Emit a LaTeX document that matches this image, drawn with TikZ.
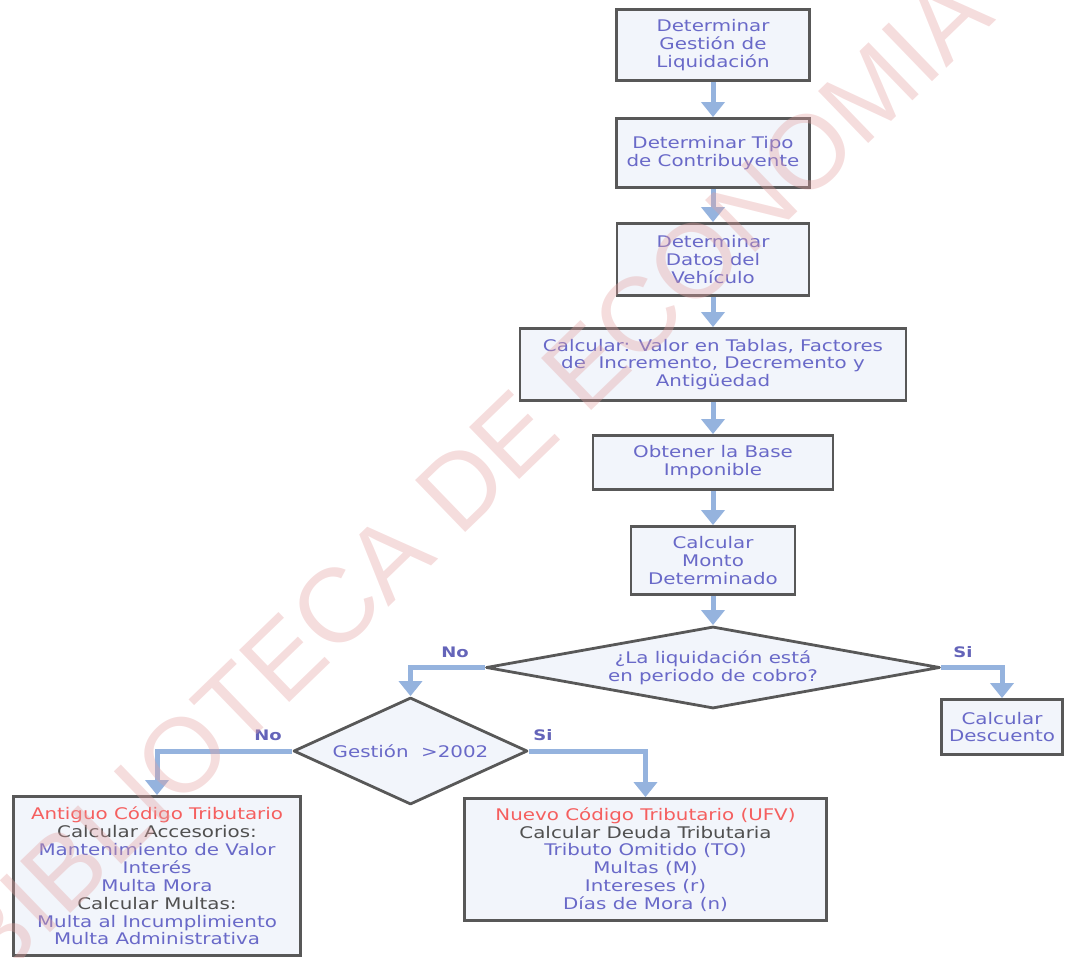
\documentclass[tikz,border=0pt]{standalone}
\usepackage{fontspec}
\setmainfont{DejaVu Sans}[FakeStretch=1.24]
\newfontfamily\wmfont{Liberation Sans}
\usetikzlibrary{shapes.geometric,arrows.meta}
\definecolor{txtblue}{RGB}{105,105,200}
\definecolor{txtred}{RGB}{245,95,95}
\definecolor{txtgray}{RGB}{80,80,80}
\definecolor{boxfill}{RGB}{242,245,251}
\definecolor{boxline}{RGB}{88,88,88}
\definecolor{arrowc}{RGB}{149,179,222}
\definecolor{lblc}{RGB}{100,100,185}
\definecolor{wmc}{RGB}{228,160,160}
\begin{document}
\begin{tikzpicture}[x=1pt,y=-1pt,
  procbox/.style={draw=boxline, line width=2.8pt, fill=boxfill, rectangle,
    inner sep=0pt, align=center, text=txtblue,
    font=\fontsize{16}{17.9}\selectfont},
  decbox/.style={draw=boxline, line width=2.8pt, fill=boxfill, diamond,
    line join=round, inner sep=0pt, align=center, text=txtblue,
    font=\fontsize{16}{17.9}\selectfont},
  flow/.style={draw=arrowc, line width=5pt, -{Triangle[width=23pt,length=15pt]}},
  lbl/.style={text=lblc, font=\fontsize{14.5}{16}\selectfont\bfseries, inner sep=0pt},
  watermark/.style={text=wmc, opacity=0.36, inner sep=0pt,
    font=\wmfont\fontsize{105}{110}\selectfont}]
\useasboundingbox (0,0) rectangle (1066,958);

\node[procbox, minimum width=193pt, minimum height=71pt] (b1) at (713,45)
  {Determinar\\Gestión de\\Liquidación};
\node[procbox, minimum width=193pt, minimum height=69pt] (b2) at (713,153)
  {Determinar Tipo\\de Contribuyente};
\node[procbox, minimum width=192pt, minimum height=72pt] (b3) at (713,259.5)
  {Determinar\\Datos del\\Vehículo};
\node[procbox, minimum width=386pt, minimum height=72pt] (b4) at (713,364.5)
  {Calcular: Valor en Tablas, Factores\\de~~Incremento, Decremento y\\Antigüedad};
\node[procbox, minimum width=240pt, minimum height=54pt] (b5) at (713,462.5)
  {Obtener la Base\\Imponible};
\node[procbox, minimum width=164pt, minimum height=68pt] (b6) at (713,560.5)
  {Calcular\\Monto\\Determinado};
\node[decbox, aspect=5.4, minimum width=454pt, minimum height=82pt] (d1) at (713,667.5)
  {¿La liquidación está\\en periodo de cobro?};
\node[procbox, minimum width=121pt, minimum height=55pt] (b8) at (1002,727)
  {Calcular\\Descuento};
\node[decbox, aspect=2.2, minimum width=234pt, minimum height=107pt] (d2) at (410.5,751)
  {Gestión~~>2002};
\node[procbox, minimum width=287pt, minimum height=159pt] (b9) at (157,876)
  {\textcolor{txtred}{Antiguo Código Tributario}\\
   \textcolor{txtgray}{Calcular Accesorios:}\\
   Mantenimiento de Valor\\
   Interés\\
   Multa Mora\\
   \textcolor{txtgray}{Calcular Multas:}\\
   Multa al Incumplimiento\\
   Multa Administrativa};
\node[procbox, minimum width=362pt, minimum height=122pt] (b10) at (645.5,859.5)
  {\textcolor{txtred}{Nuevo Código Tributario (UFV)}\\
   \textcolor{txtgray}{Calcular Deuda Tributaria}\\
   Tributo Omitido (TO)\\
   Multas (M)\\
   Intereses (r)\\
   Días de Mora (n)};

\draw[flow] (b1.south) -- (b2.north);
\draw[flow] (b2.south) -- (b3.north);
\draw[flow] (b3.south) -- (b4.north);
\draw[flow] (b4.south) -- (b5.north);
\draw[flow] (b5.south) -- (b6.north);
\draw[flow] (b6.south) -- (d1.north);
\draw[flow] (d1.west) -| (d2.north);
\draw[flow] (d1.east) -| (b8.north);
\draw[flow] (d2.west) -| (b9.north);
\draw[flow] (d2.east) -| (b10.north);

\node[lbl] (lno1) at (455,652) {No};
\node[lbl] (lsi1) at (963,652) {Si};
\node[lbl] (lno2) at (268,735) {No};
\node[lbl] (lsi2) at (543,735) {Si};

\node[watermark, rotate=44] (wm) at (470,478) {BIBLIOTECA DE ECONOMIA};
\end{tikzpicture}
\end{document}
